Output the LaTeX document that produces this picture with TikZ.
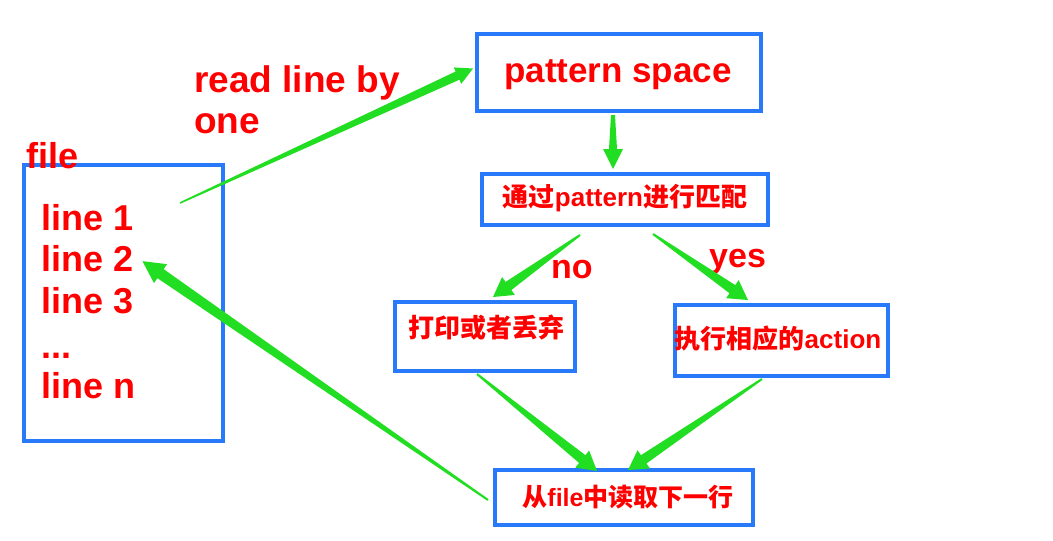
\documentclass[tikz,border=0pt]{standalone}
\usepackage{fontspec}
\setmainfont{Liberation Sans}
\newfontfamily\cjk{Noto Sans CJK SC}
\usetikzlibrary{calc,shadows}
\definecolor{boxblue}{RGB}{40,122,250}
\definecolor{arrowgreen}{RGB}{34,222,34}
\definecolor{txtred}{RGB}{255,0,0}
\tikzset{
  flowbox/.style={draw=boxblue, line width=4pt, fill=white, rectangle, inner sep=0pt,
    drop shadow={opacity=0.22, shadow xshift=2pt, shadow yshift=-2pt}},
  redtxt/.style={text=txtred, inner sep=0pt, font=\bfseries\fontsize{#1}{#1}\selectfont},
  redtxt/.default=36,
}
\newcommand\taper[6]{%
  \coordinate (tpH) at ($(#2)!#6!(#1)$);
  \fill[arrowgreen] ($(#1)!#3!90:(#2)$) -- ($(tpH)!#4!-90:(#1)$) -- ($(tpH)!#5!-90:(#1)$)
    -- (#2) -- ($(tpH)!#5!90:(#1)$) -- ($(tpH)!#4!90:(#1)$) -- ($(#1)!#3!-90:(#2)$) -- cycle;}
\begin{document}
\begin{tikzpicture}[x=1pt,y=-1pt]
\useasboundingbox (0,0) rectangle (1053,541);
\fill[white] (0,0) rectangle (1053,541);

% boxes
\node[flowbox, minimum width=199pt, minimum height=276pt] (file) at (123.5,303) {};
\node[flowbox, minimum width=284pt, minimum height=77pt] (pattern) at (619,72.5) {};
\node[flowbox, minimum width=286pt, minimum height=51pt] (match) at (625,199.5) {};
\node[flowbox, minimum width=180pt, minimum height=69pt] (print) at (485,336.5) {};
\node[flowbox, minimum width=213pt, minimum height=71pt] (action) at (781.5,340.5) {};
\node[flowbox, minimum width=258pt, minimum height=55pt] (next) at (624,497.5) {};

% texts
\node[redtxt=36, anchor=base west] (filelbl) at (26,168) {file};
\node[redtxt=36, anchor=base west] (l1) at (41,230) {line 1};
\node[redtxt=36, anchor=base west] (l2) at (41,271) {line 2};
\node[redtxt=36, anchor=base west] (l3) at (41,313) {line 3};
\node[redtxt=36, anchor=base west] (ldots) at (41,358) {...};
\node[redtxt=36, anchor=base west] (ln) at (41,398) {line n};
\node[redtxt=37, anchor=base west] (read1) at (194,92) {read line by};
\node[redtxt=37, anchor=base west] (read2) at (194,133) {one};
\node[redtxt=35, anchor=base] (pstxt) at (618,82) {pattern space};
\node[redtxt=26] (matchtxt) at (625,198) {{\cjk 通过}pattern{\cjk 进行匹配}};
\node[redtxt=26] (printtxt) at (486,328) {{\cjk 打印或者丢弃}};
\node[redtxt=26] (actiontxt) at (778,339) {{\cjk 执行相应的}action};
\node[redtxt=25] (nexttxt) at (628,497) {{\cjk 从}file{\cjk 中读取下一行}};
\node[redtxt=34, anchor=base west] (no) at (551,278) {no};
\node[redtxt=34, anchor=base west] (yes) at (709,267) {yes};

% arrow end points
\coordinate (readtail) at (180,203);
\coordinate (readtip) at ($(pattern.west)+(-2,-4)$);
\coordinate (pmtail) at ($(pattern.south)+(-6,2)$);
\coordinate (pmtip) at ($(match.north)+(-12,-3)$);
\coordinate (notail) at ($(match.south)+(-45,8)$);
\coordinate (notip) at ($(print.north)+(8,-3)$);
\coordinate (yestail) at ($(match.south)+(28,7)$);
\coordinate (yestip) at ($(action.north)+(-33.5,-3)$);
\coordinate (pntail) at ($(print.south)+(-8,1)$);
\coordinate (pntip) at ($(next.north)+(-27,3)$);
\coordinate (antail) at ($(action.south)+(-19.5,1)$);
\coordinate (antip) at ($(next.north)+(4,2)$);
\coordinate (backtail) at ($(next.west)+(-5,2.5)$);
\coordinate (backtip) at ($(l2.east)+(9,3)$);

% tapered green arrows
\taper{readtail}{readtip}{0.8pt}{4.5pt}{9pt}{17pt}
\taper{pmtail}{pmtip}{2pt}{4pt}{10pt}{20pt}
\taper{notail}{notip}{1pt}{5pt}{11pt}{19pt}
\taper{yestail}{yestip}{1pt}{5pt}{11pt}{19pt}
\taper{pntail}{pntip}{1pt}{5pt}{11pt}{19pt}
\taper{antail}{antip}{1pt}{5pt}{11pt}{19pt}
\taper{backtail}{backtip}{1pt}{5.5pt}{11.5pt}{22pt}
\end{tikzpicture}
\end{document}
